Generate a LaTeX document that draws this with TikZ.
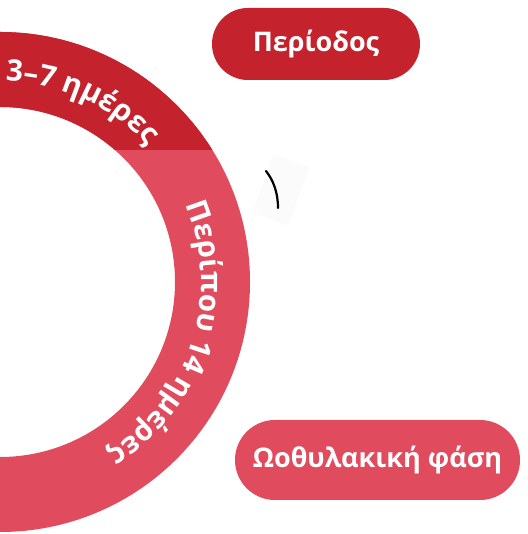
\documentclass[tikz,border=0pt]{standalone}
\usepackage{fontspec}
\setmainfont{Open Sans}
\usetikzlibrary{decorations.text}
\definecolor{darkred}{HTML}{C4232D}
\definecolor{pinkred}{HTML}{E04B5D}
\tikzset{
  pill/.style={rectangle, text=white, font=\bfseries\fontsize{27}{30}\selectfont, inner sep=0pt},
  ringtext/.style={decorate, decoration={text along path, text align=center, text color=white}}
}
\begin{document}
\begin{tikzpicture}[x=1pt,y=1pt]
\useasboundingbox (0,0) rectangle (527,534);
\coordinate (C) at (0,252);
\begin{scope}
  \clip (0,0) rectangle (527,534);
  \fill[pinkred, even odd rule] (C) circle[radius=250] (C) circle[radius=175];
  \begin{scope}
    \clip (-10,384) rectangle (600,600);
    \fill[darkred, even odd rule] (C) circle[radius=250] (C) circle[radius=175];
  \end{scope}
  \path[ringtext, decoration={text={|\bfseries\fontsize{29.5}{30}\selectfont|3–7 ημέρες}}]
    (C) ++(92:201) arc[start angle=92, end angle=39, radius=201];
  \path[ringtext, decoration={text={|\bfseries\fontsize{29.5}{30}\selectfont|Περίπου 14 ημέρες}}]
    (C) ++(25:201) arc[start angle=25, end angle=-60, radius=201];
\end{scope}
\node[pill, fill=darkred, minimum width=208pt, minimum height=72pt, rounded corners=35.9pt] (period) at (316,490) {Περίοδος};
\node[pill, fill=pinkred, minimum width=285pt, minimum height=80pt, rounded corners=39.9pt] (follicular) at (377.5,74) {Ωοθυλακική φάση};
\node[rectangle, fill=black!1.5, minimum width=38pt, minimum height=62pt, rotate=-20, inner sep=0pt] (markbg) at (281,344) {};
\coordinate (m1) at (266,363);
\coordinate (m2) at (278,326);
\draw[line width=2.2pt, line cap=round] (m1) .. controls (273,354) and (278,342) .. (m2);
\end{tikzpicture}
\end{document}
